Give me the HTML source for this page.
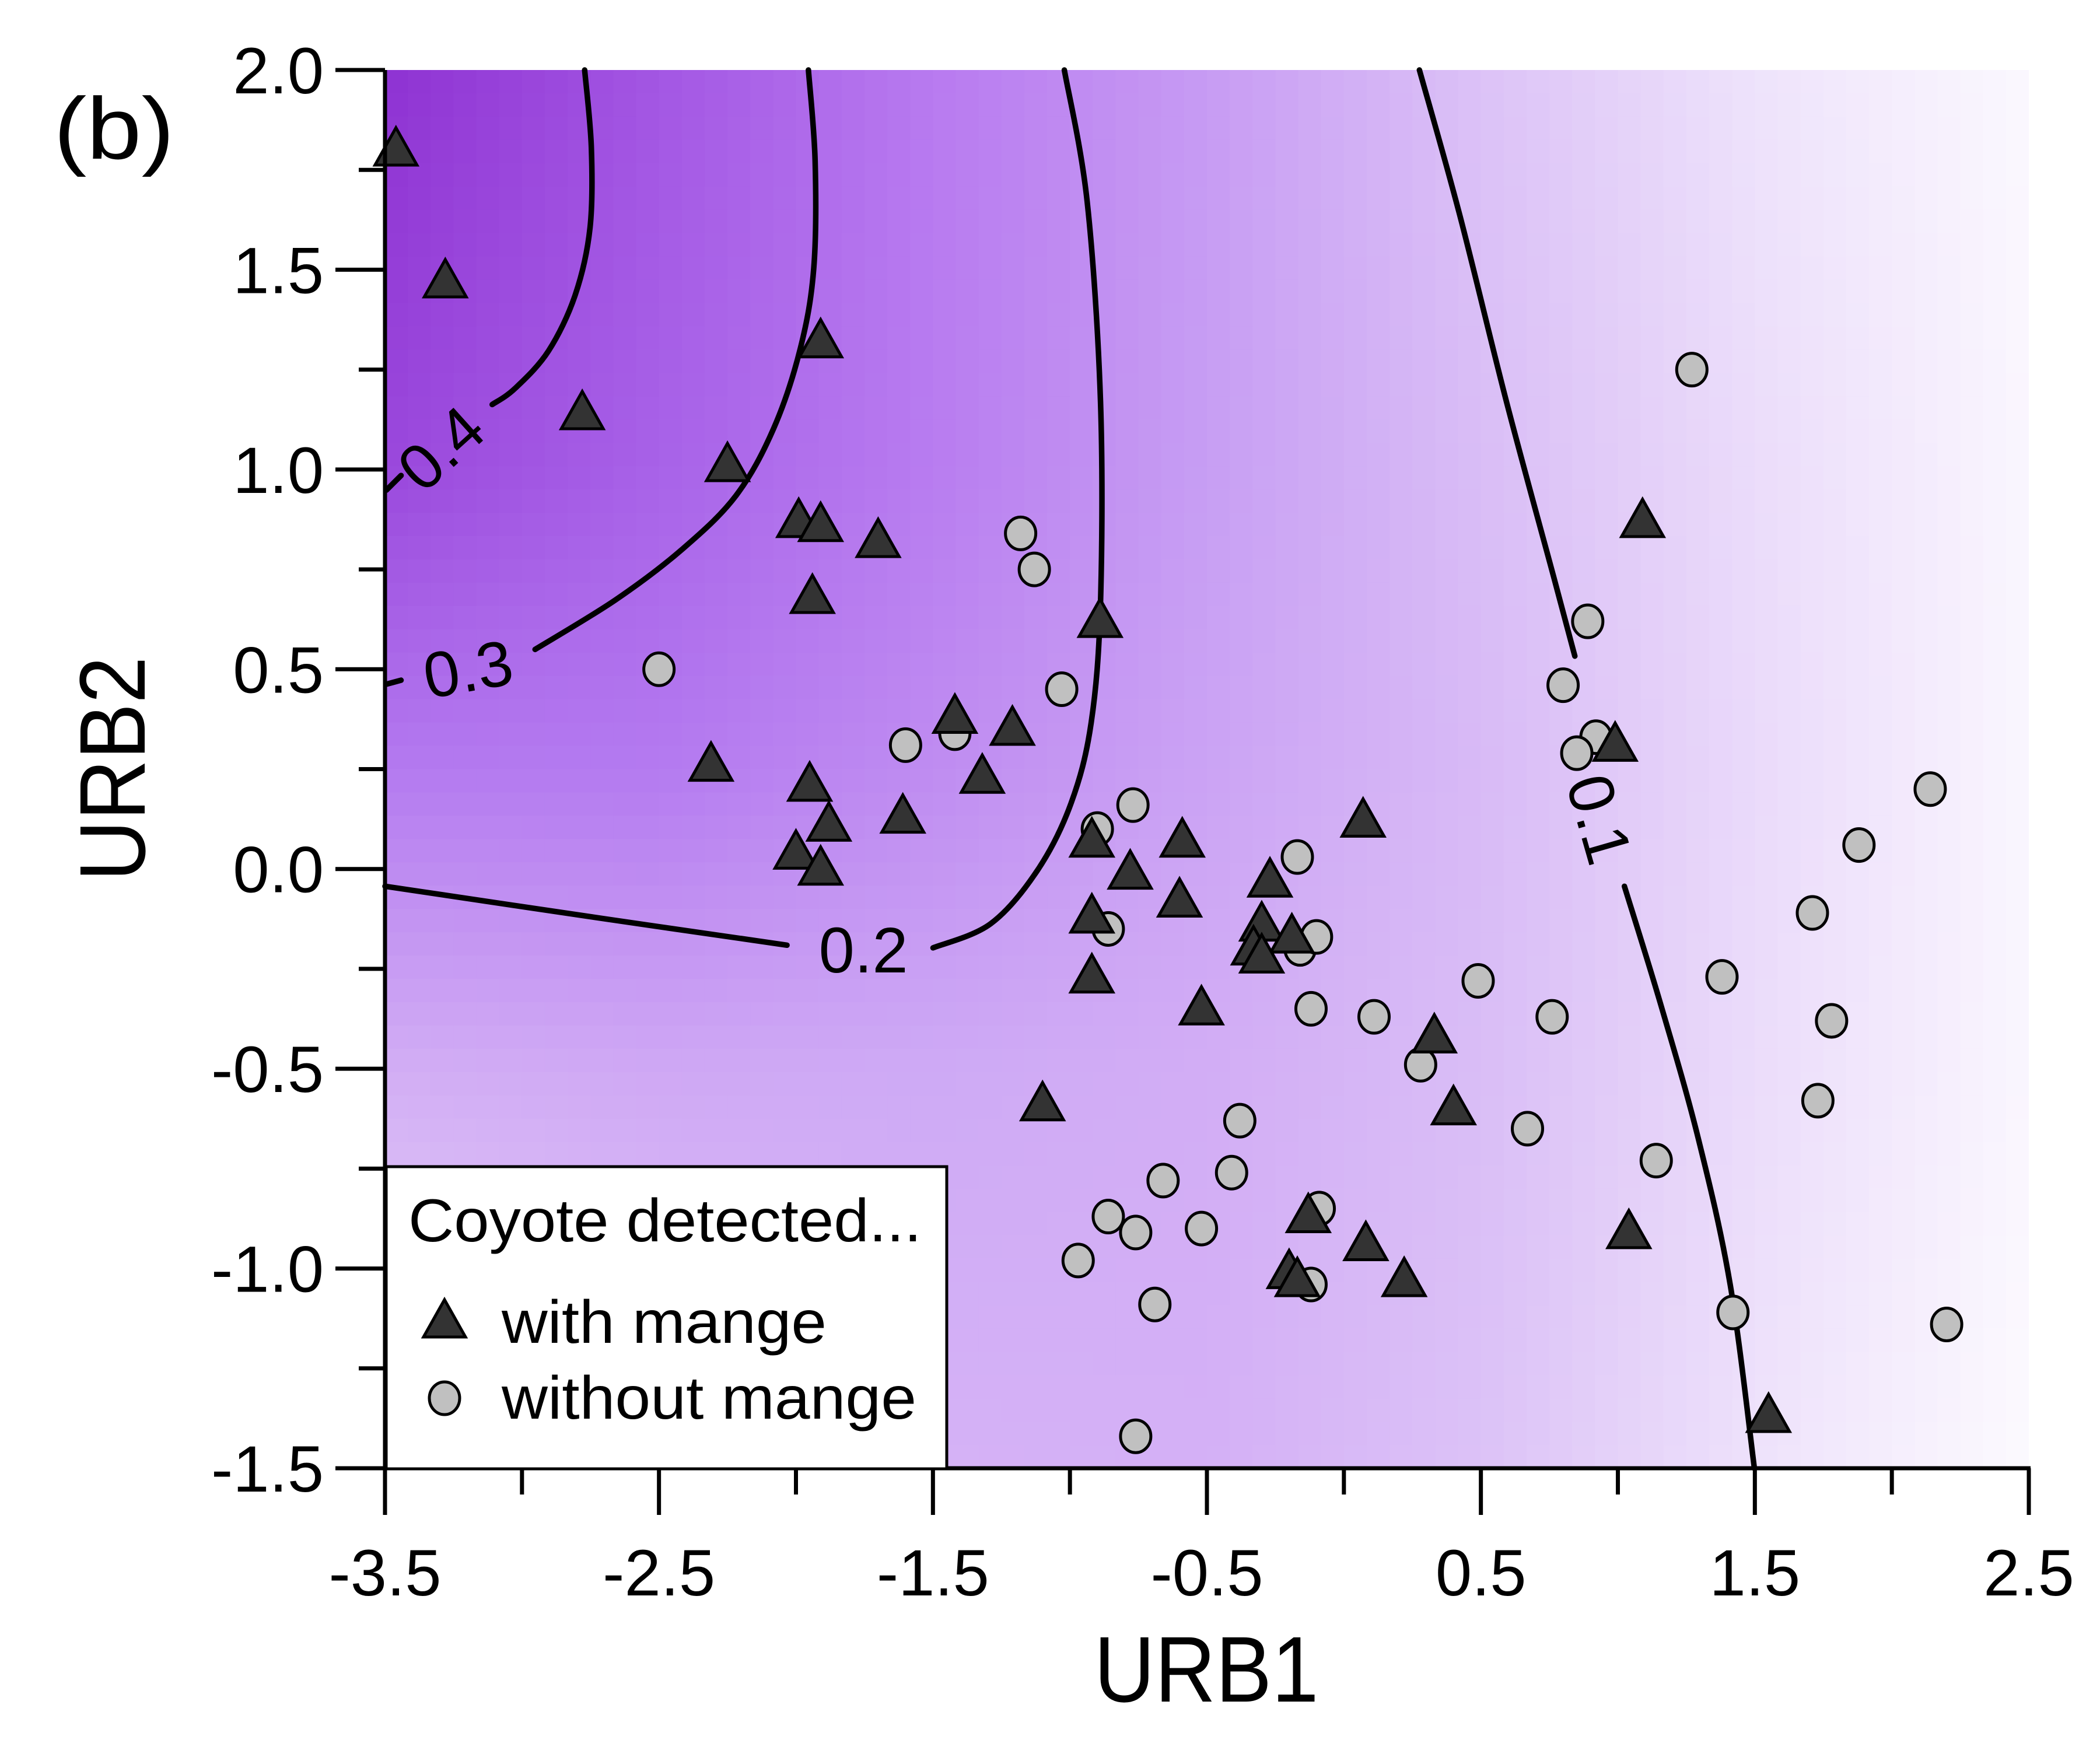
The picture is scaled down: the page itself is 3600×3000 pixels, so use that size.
<!DOCTYPE html>
<html><head><meta charset="utf-8">
<style>
html,body{margin:0;padding:0;background:#fff;overflow:hidden;}
svg{display:block;font-family:"Liberation Sans",Arial,sans-serif;}
</style></head>
<body>
<svg id="chart" width="3600" height="3000" viewBox="0 0 3600 3000">
<defs><clipPath id="plotClip"><rect x="660" y="120" width="2818" height="2397"/></clipPath></defs>
<g id="bg" clip-path="url(#plotClip)"></g>
<g id="contours" fill="none" stroke="#000" stroke-width="9.5" stroke-linecap="round"></g>
<g id="contourLabels" font-size="110" fill="#000"></g>
<g id="marks"></g>
<g id="axes" stroke="#000" stroke-width="7"></g>
<g id="ticklabels" font-size="112" fill="#000"></g>
<text x="2068" y="2917" font-size="160" text-anchor="middle" textLength="385" lengthAdjust="spacingAndGlyphs">URB1</text>
<text x="0" y="0" font-size="160" text-anchor="middle" textLength="385" lengthAdjust="spacingAndGlyphs" transform="translate(248,1318) rotate(-90)">URB2</text>
<text x="92" y="272" font-size="150" textLength="207" lengthAdjust="spacingAndGlyphs">(b)</text>
<g id="legend">
<rect x="662" y="2000" width="961" height="518" fill="#fff" stroke="#000" stroke-width="5"/>
<text x="700" y="2128" font-size="104" textLength="880" lengthAdjust="spacingAndGlyphs">Coyote detected...</text>
<g>
<polygon points="762,2228 726,2292 798,2292" fill="#333" stroke="#000" stroke-width="5"/>
<text x="860" y="2302" font-size="104" textLength="557" lengthAdjust="spacingAndGlyphs">with mange</text>
</g>
<g>
<ellipse cx="762" cy="2397" rx="26" ry="28" fill="#c0c0c0" stroke="#000" stroke-width="5"/>
<text x="860" y="2432" font-size="104" textLength="711" lengthAdjust="spacingAndGlyphs">without mange</text>
</g>
</g>
</svg>
<script>
const xTicks=[-3.5,-2.5,-1.5,-0.5,0.5,1.5,2.5];
const xTickLabels=["-3.5","-2.5","-1.5","-0.5","0.5","1.5","2.5"];
const yTicks=[2.0,1.5,1.0,0.5,0.0,-0.5,-1.0,-1.5];
const yTickLabels=["2.0","1.5","1.0","0.5","0.0","-0.5","-1.0","-1.5"];
const mangeX=[-3.46,-3.28,-1.91,-2.78,-2.25,-1.99,-1.91,-1.70,-1.94,-0.89,-1.42,-1.21,-2.31,-1.32,-1.95,-1.88,-1.61,-2.00,-1.91,0.07,-0.92,-0.59,-0.78,-0.27,-0.92,-0.60,-0.30,-0.19,-0.33,-0.30,-0.92,-0.52,0.33,0.40,-1.10,1.09,0.99,-0.13,0.08,-0.20,-0.17,0.22,1.04,1.55];
const mangeY=[1.80,1.47,1.32,1.14,1.01,0.87,0.86,0.82,0.68,0.62,0.38,0.35,0.26,0.23,0.21,0.11,0.13,0.04,0.00,0.12,0.07,0.07,-0.01,-0.03,-0.12,-0.08,-0.14,-0.17,-0.20,-0.22,-0.27,-0.35,-0.42,-0.60,-0.59,0.87,0.31,-0.87,-0.94,-1.01,-1.03,-1.03,-0.91,-1.37];
const noMangeX=[-1.18,-1.13,1.27,-2.50,-1.03,-1.60,-1.42,0.89,0.80,0.92,0.85,2.14,-0.77,-0.90,1.88,-0.17,-0.86,-0.16,-0.10,1.71,-0.12,0.11,0.49,0.76,1.38,1.78,0.28,1.73,-0.38,0.67,1.14,-0.66,-0.41,-0.86,-0.76,-0.52,-0.09,-0.97,-0.12,-0.69,1.42,2.20,-0.76];
const noMangeY=[0.84,0.75,1.25,0.50,0.45,0.31,0.34,0.62,0.46,0.33,0.29,0.20,0.16,0.10,0.06,0.03,-0.15,-0.20,-0.17,-0.11,-0.35,-0.37,-0.28,-0.37,-0.27,-0.38,-0.49,-0.58,-0.63,-0.65,-0.73,-0.78,-0.76,-0.87,-0.91,-0.90,-0.85,-0.98,-1.04,-1.09,-1.11,-1.14,-1.42];
const contourLevels=["0.4","0.3","0.2","0.1"];
const NS="http://www.w3.org/2000/svg";
const X0=660,X1=3478,Y0=120,Y1=2517;
function sx(v){return X0+(v+3.5)/6*(X1-X0);}
function sy(v){return Y0+(2-v)/3.5*(Y1-Y0);}
function D(dx,dy){return [X0+(dx-288)*2.297,Y0+(dy-52)*2.294];}
function mk(tag,attrs,parent){const e=document.createElementNS(NS,tag);for(const k in attrs)e.setAttribute(k,attrs[k]);parent.appendChild(e);return e;}
// background surface (colour grid, bilinear)
const gX=[-3.5,-2.5,-1.5,-0.5,0.5,1.5,2.5];
const gY=[2,1,0.25,-0.5,-1.5];
const gC=[
["8e32d2","a356e3","b87af0","c79bf3","dcc2f7","eee3fb","fbf8fe"],
["9a48dc","a862e8","b87cf0","c79ef3","d9bdf6","ebdcfa","faf6fe"],
["b47af0","b47af0","bf8cf1","cba3f4","d8baf6","eadafa","faf6fe"],
["d2aef4","cfa8f4","ceaaf5","d2adf5","d9bdf6","ebdcfa","faf6fe"],
["ecdcfb","dfc6f8","d5b2f6","d4b0f6","dcc2f7","eee2fb","fcfafe"]];
function hex(h){return [parseInt(h.slice(0,2),16),parseInt(h.slice(2,4),16),parseInt(h.slice(4,6),16)];}
function seg(arr,v,desc){for(let i=0;i<arr.length-1;i++){const a=arr[i],b=arr[i+1];if(desc?(v<=a&&v>=b):(v>=a&&v<=b))return [i,(v-a)/(b-a)];}return [arr.length-2,1];}
function col(x,y){const [i,tx]=seg(gX,x,false);const [j,ty]=seg(gY,y,true);
 const c00=hex(gC[j][i]),c01=hex(gC[j][i+1]),c10=hex(gC[j+1][i]),c11=hex(gC[j+1][i+1]);
 const r=[0,1,2].map(k=>Math.round((c00[k]*(1-tx)+c01[k]*tx)*(1-ty)+(c10[k]*(1-tx)+c11[k]*tx)*ty));
 return `rgb(${r[0]},${r[1]},${r[2]})`;}
const bg=document.getElementById('bg');
const NC=72,NR=60,cw=(X1-X0)/NC,ch=(Y1-Y0)/NR;
for(let r=0;r<NR;r++)for(let c=0;c<NC;c++){
 const xv=-3.5+(c+0.5)/NC*6,yv=2-(r+0.5)/NR*3.5;
 mk('rect',{x:X0+c*cw,y:Y0+r*ch,width:cw+1,height:ch+1,fill:col(xv,yv)},bg);
}
// contours
const cpaths=[
 [[[437,52],[442,110],[441,170],[430,220],[410,262],[385,290],[368,302]],[[300,355],[289,366]]],
 [[[604,52],[609,120],[608,200],[598,260],[578,320],[550,370],[510,410],[460,448],[400,485]],[[300,508],[289,511]]],
 [[[795,52],[812,150],[822,300],[822,450],[815,540],[800,600],[775,650],[740,690],[697,708]],[[588,706],[450,686],[288,662]]],
 [[[1060,52],[1090,160],[1125,300],[1160,430],[1176,490]],[[1213,662],[1240,750],[1268,850],[1292,960],[1310,1097]]]
];
function smooth(pts){let d='M'+pts[0].join(',');
 for(let i=0;i<pts.length-1;i++){const p0=pts[Math.max(i-1,0)],p1=pts[i],p2=pts[i+1],p3=pts[Math.min(i+2,pts.length-1)];
  const c1=[p1[0]+(p2[0]-p0[0])/6,p1[1]+(p2[1]-p0[1])/6],c2=[p2[0]-(p3[0]-p1[0])/6,p2[1]-(p3[1]-p1[1])/6];
  d+=` C${c1.join(',')} ${c2.join(',')} ${p2.join(',')}`;}
 return d;}
const cg=document.getElementById('contours');
cpaths.forEach((segs,i)=>{segs.forEach(s=>{
 const p=mk('path',{d:smooth(s.map(q=>D(q[0],q[1])))},cg);
 
 
});});
const cl=document.getElementById('contourLabels');
const lab=[[330,335,-42],[350,500,-10],[645,710,0],[1194,612,74]];
lab.forEach((l,i)=>{const [x,y]=D(l[0],l[1]);
 const t=mk('text',{x:0,y:0,'text-anchor':'middle','dominant-baseline':'central',transform:`translate(${x},${y}) rotate(${l[2]})`},cl);
 t.textContent=contourLevels[i];
 
 
});
// marks
const mg=document.getElementById('marks');
noMangeX.forEach((v,i)=>{
 const c=mk('ellipse',{cx:sx(v),cy:sy(noMangeY[i]),rx:26,ry:28,fill:'#c0c0c0',stroke:'#000','stroke-width':5},mg);
 
 
});
mangeX.forEach((v,i)=>{
 const x=sx(v),y=sy(mangeY[i]);
 const t=mk('polygon',{points:`${x},${y-38} ${x-36},${y+26} ${x+36},${y+26}`,fill:'#333',stroke:'#000','stroke-width':5},mg);
 
 
});
// axes
const ag=document.getElementById('axes');
mk('line',{x1:X0,y1:Y0,x2:X0,y2:Y1+3},ag);
mk('line',{x1:X0-85,y1:Y1,x2:X1+3,y2:Y1},ag);
yTicks.forEach(v=>{mk('line',{x1:X0-85,y1:sy(v),x2:X0,y2:sy(v)},ag);});
for(let k=0;k<7;k++){const v=1.75-k*0.5;mk('line',{x1:X0-45,y1:sy(v),x2:X0,y2:sy(v)},ag);}
xTicks.forEach(v=>{mk('line',{x1:sx(v),y1:Y1,x2:sx(v),y2:Y1+80},ag);});
for(let k=0;k<6;k++){const v=-3+k;mk('line',{x1:sx(v),y1:Y1,x2:sx(v),y2:Y1+45},ag);}
const tg=document.getElementById('ticklabels');
xTicks.forEach((v,i)=>{const t=mk('text',{x:sx(v),y:2735,'text-anchor':'middle'},tg);t.textContent=xTickLabels[i];
 
 });
yTicks.forEach((v,i)=>{const t=mk('text',{x:X0-105,y:sy(v)+40,'text-anchor':'end'},tg);t.textContent=yTickLabels[i];
 
 });
</script>
</body></html>
